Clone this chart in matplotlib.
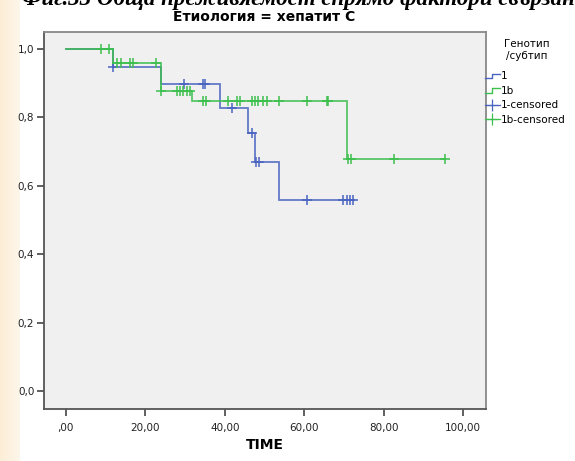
import numpy as np
import matplotlib
matplotlib.use("Agg")
import matplotlib.pyplot as plt
from matplotlib.lines import Line2D
from matplotlib.legend_handler import HandlerBase

# ---- data ----
title = "Етиология = хепатит С"
caption = "Фиг.33 Обща преживяемост спрямо фактори свързани"
legend_title = "Генотип\n/субтип"
series_names = ["1", "1b", "1-censored", "1b-censored"]

blue_times = [0, 12, 24, 38.8, 45.8, 47.6, 53.7]
blue_surv = [1.0, 0.948, 0.897, 0.828, 0.754, 0.670, 0.558]
blue_cens = [12.0, 29.8, 34.6, 35.0, 41.8, 46.8, 48.0, 48.7, 60.8, 69.8, 70.7, 71.5, 72.4]

green_times = [0, 12, 24, 31.8, 70.8]
green_surv = [1.0, 0.958, 0.878, 0.848, 0.678]
green_cens = [8.8, 10.8, 12.8, 13.9, 16.1, 17.0, 22.8, 24.0, 27.9, 28.7, 29.5, 30.4,
              31.2, 34.6, 35.4, 40.9, 43.0, 43.8, 46.8, 47.6, 48.4, 49.7, 50.7, 53.7,
              60.8, 65.7, 66.0, 71.1, 71.7, 82.6, 95.5]

x_ticks = [0, 20, 40, 60, 80, 100]
x_ticklabels = [",00", "20,00", "40,00", "60,00", "80,00", "100,00"]
y_ticks = [0.0, 0.2, 0.4, 0.6, 0.8, 1.0]
y_ticklabels = ["0,0", "0,2", "0,4", "0,6", "0,8", "1,0"]

BLUE = "#4a64c0"
GREEN = "#3cbf4e"

W, H = 575, 461
fig = plt.figure(figsize=(W / 100, H / 100), dpi=100)
fig.patch.set_facecolor("white")

# beige strip on the left
strip = fig.add_axes([0, 0, 20 / W, 1])
grad = np.linspace(0, 1, 50)[None, :]
c0 = np.array([0.99, 0.93, 0.84])
c1 = np.array([0.995, 0.965, 0.915])
img = c0[None, None, :] * (1 - grad[..., None]) + c1[None, None, :] * grad[..., None]
img = np.repeat(img, 10, axis=0)
strip.imshow(img, aspect="auto", extent=[0, 1, 0, 1])
strip.axis("off")

fig.text(22 / W, 1 - 5.5 / H, caption, fontsize=16.5, fontweight="bold", style="italic",
         family="Liberation Serif", ha="left", va="baseline")

ax = fig.add_axes([44 / W, 52 / H, (486 - 44) / W, (409 - 32) / H])
ax.set_facecolor("#f0f0f0")


def step_xy(times, surv, end):
    xs, ys = [], []
    for i, (t, s) in enumerate(zip(times, surv)):
        if i > 0:
            xs.append(t); ys.append(surv[i - 1])
        xs.append(t); ys.append(s)
    xs.append(end); ys.append(surv[-1])
    return xs, ys


def surv_at(times, surv, t):
    idx = np.searchsorted(times, t, side="right") - 1
    return surv[idx]


for times, surv, cens, col in [(blue_times, blue_surv, blue_cens, BLUE),
                               (green_times, green_surv, green_cens, GREEN)]:
    xs, ys = step_xy(times, surv, max(cens))
    ax.plot(xs, ys, color=col, lw=1.3, alpha=0.85, solid_joinstyle="miter")
    cy = [surv_at(times, surv, t) for t in cens]
    ax.plot(cens, cy, ls="none", marker="+", ms=7, mew=1.1, color=col)

ax.set_xlim(-5.5, 105.8)
ax.set_ylim(-0.053, 1.05)
ax.set_xticks(x_ticks)
ax.set_xticklabels(x_ticklabels)
ax.set_yticks(y_ticks)
ax.set_yticklabels(y_ticklabels)
ax.tick_params(axis="both", direction="out", length=5, width=1.2, color="#444444",
               labelsize=7.5, labelcolor="#222222")
ax.tick_params(axis="x", pad=5)
ax.tick_params(axis="y", pad=2)
for sp in ax.spines.values():
    sp.set_color("#555555")
    sp.set_linewidth(1.3)
ax.spines["top"].set_color("#888888")
ax.spines["right"].set_color("#888888")

ax.set_xlabel("TIME", fontsize=10, fontweight="bold", labelpad=4)
fig.text(264 / W, 1 - 17 / H, title, fontsize=10, fontweight="bold", ha="center", va="center")

# legend title
fig.text(527 / W, 1 - 50 / H, legend_title, fontsize=7.5, ha="center", va="center",
         multialignment="center", linespacing=1.3)


class StepHandler(HandlerBase):
    def create_artists(self, legend, orig_handle, xdescent, ydescent, width, height,
                       fontsize, trans):
        x0 = -xdescent
        xs = [x0, x0 + 0.45 * width, x0 + 0.45 * width, x0 + width]
        ys = [0.15 * height - ydescent, 0.15 * height - ydescent,
              0.75 * height - ydescent, 0.75 * height - ydescent]
        ln = Line2D(xs, ys, color=orig_handle.get_color(), lw=1.0, transform=trans)
        return [ln]


class CensHandler(HandlerBase):
    def create_artists(self, legend, orig_handle, xdescent, ydescent, width, height,
                       fontsize, trans):
        x0 = -xdescent
        yc = 0.5 * height - ydescent
        ln = Line2D([x0, x0 + width], [yc, yc], color=orig_handle.get_color(), lw=0.9,
                    transform=trans)
        mk = Line2D([x0 + width / 2], [yc], marker="+", ms=8, mew=0.9,
                    color=orig_handle.get_color(), transform=trans)
        return [ln, mk]


h_blue = Line2D([], [], color=BLUE)
h_green = Line2D([], [], color=GREEN)
h_bc = Line2D([], [], color=BLUE, marker="+")
h_gc = Line2D([], [], color=GREEN, marker="+")
step_h = StepHandler()
cens_h = CensHandler()
leg = fig.legend([h_blue, h_green, h_bc, h_gc], series_names,
                 handler_map={h_blue: step_h, h_green: step_h, h_bc: cens_h, h_gc: cens_h},
                 loc="upper left", bbox_to_anchor=(485 / W, 1 - 71 / H),
                 frameon=False, fontsize=7.5, handlelength=1.4,
                 handletextpad=0.1, labelspacing=0.45, borderaxespad=0, borderpad=0)

fig.savefig("out.png", dpi=100)
